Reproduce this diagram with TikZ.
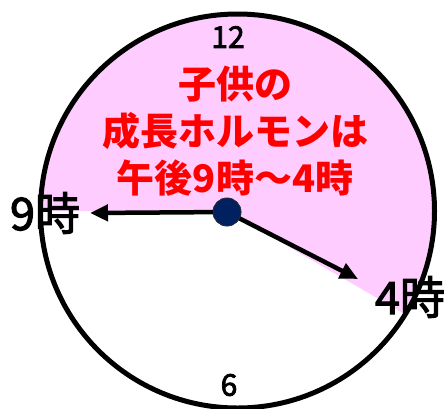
\documentclass[tikz,border=0pt]{standalone}
\usepackage{fontspec}
\newfontfamily\cjk{Noto Sans CJK JP}
\newfontfamily\cjkm{Noto Sans CJK JP}[FakeBold=2.5]
\usetikzlibrary{arrows.meta}
\definecolor{pinkfill}{RGB}{255,204,255}
\definecolor{navy}{RGB}{0,32,96}
\definecolor{redtext}{RGB}{255,0,0}
\tikzset{
  hand/.style={line width=4.5pt, -{Triangle[length=18pt,width=16pt]}},
  numlabel/.style={font=\cjkm\fontsize{30}{30}\selectfont, inner sep=0pt},
  hourlabel/.style={font=\cjkm\fontsize{45}{45}\selectfont, inner sep=0pt},
  msg/.style={font=\cjk\bfseries\fontsize{38}{47}\selectfont, text=redtext, align=center, inner sep=0pt},
  hub/.style={circle, fill=navy, draw=black!80, line width=0.6pt, minimum size=28pt, inner sep=0pt}
}
\begin{document}
\begin{tikzpicture}[x=1pt,y=-1pt]
\useasboundingbox (0,0) rectangle (446,408);
\begin{scope}
  \clip (237.5,211) circle (197pt);
  \fill[pinkfill] (227,211) -- (0,211) -- (0,0) -- (446,0) -- (446,338) -- cycle;
\end{scope}
\draw[line width=5pt] (237.5,211) circle (197pt);
\node[numlabel] (twelve) at (228,37) {12};
\node[numlabel] (six) at (229,385) {6};
\node[hourlabel] (nine) at (45,213) {9時};
\node[hourlabel] (four) at (410,297) {4時};
\node[msg] (text) at (235,131) {子供の\\成長ホルモンは\\午後9時～4時};
\node[hub] (dot) at (227,212) {};
\coordinate (hourtip) at (90,213);
\coordinate (mintip) at (358,279);
\draw[hand] (dot.center) -- (hourtip);
\draw[hand] (dot.center) -- (mintip);
\node[hub] at (dot) {};
\end{tikzpicture}
\end{document}
